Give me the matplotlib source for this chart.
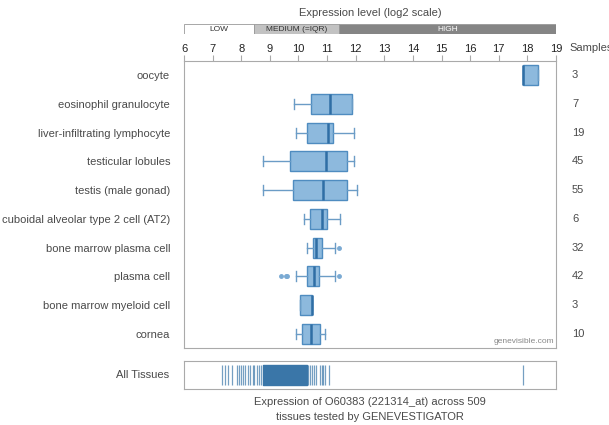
import matplotlib
matplotlib.use('Agg')
import matplotlib.pyplot as plt

plt.rcParams['font.family'] = ['Liberation Sans', 'DejaVu Sans']

tissues = ['oocyte', 'eosinophil granulocyte', 'liver-infiltrating lymphocyte',
           'testicular lobules', 'testis (male gonad)', 'cuboidal alveolar type 2 cell (AT2)',
           'bone marrow plasma cell', 'plasma cell', 'bone marrow myeloid cell', 'cornea']
samples = [3, 7, 19, 45, 55, 6, 32, 42, 3, 10]
whislo = [17.84, 9.84, 9.90, 8.77, 8.77, 10.21, 10.30, 9.93, 10.07, 9.90]
q1 = [17.84, 10.44, 10.30, 9.70, 9.82, 10.41, 10.52, 10.30, 10.07, 10.14]
med = [17.86, 11.10, 11.02, 10.95, 10.87, 10.81, 10.62, 10.55, 10.47, 10.44]
q3 = [18.37, 11.87, 11.20, 11.69, 11.69, 11.01, 10.83, 10.73, 10.49, 10.77]
whishi = [18.37, 11.87, 11.94, 11.95, 12.04, 11.44, 11.26, 11.26, 10.49, 10.91]
fliers = [[], [], [], [], [], [], [11.42], [9.39, 9.55, 9.60, 11.42], [], []]

# all tissues strip
strip_lines = [7.34, 7.42, 7.55, 7.67, 7.84, 7.91, 7.98, 8.05, 8.12, 8.23, 8.31,
               8.40, 8.46, 8.54, 8.63, 8.69, 10.35, 10.41, 10.47, 10.56, 10.62,
               10.76, 10.82, 10.87, 10.93, 11.08, 17.84]
strip_dense = (8.77, 10.29)

levels = ['LOW', 'MEDIUM (=IQR)', 'HIGH']
level_edges = [6, 8.45, 11.43, 19]

text_col = '#4a4a4a'
box_fill = '#8db9dd'
box_edge = '#4f8cc0'
med_col = '#2f6ea5'

fig = plt.figure(figsize=(6.09, 4.25), dpi=100)

# level bar
axl = fig.add_axes([184 / 609, 1 - 34 / 425, 372 / 609, 10 / 425])
lcols = ['white', '#c2c2c2', '#858585']
tcols = ['#333333', '#333333', 'white']
for i, lab in enumerate(levels):
    a, b = level_edges[i], level_edges[i + 1]
    axl.barh(0, b - a, left=a, height=1, color=lcols[i], edgecolor='#999999', linewidth=0.6)
    axl.text((a + b) / 2, -0.05, lab, ha='center', va='center', fontsize=6, color=tcols[i])
axl.set_xlim(6, 19)
axl.set_ylim(-0.5, 0.5)
axl.axis('off')
fig.text(370 / 609, 1 - 13 / 425, 'Expression level (log2 scale)', ha='center', va='center',
         fontsize=8, color=text_col)

# main box plot
ax = fig.add_axes([184 / 609, 1 - 348 / 425, 372 / 609, 287 / 425])
stats = []
for i in range(len(tissues)):
    stats.append(dict(whislo=whislo[i], q1=q1[i], med=med[i], q3=q3[i],
                      whishi=whishi[i], fliers=fliers[i]))
pos = list(range(len(tissues)))[::-1]
ax.bxp(stats, positions=pos, orientation='horizontal', widths=0.7, capwidths=0.35,
       patch_artist=True,
       boxprops=dict(facecolor=box_fill, edgecolor=box_edge, linewidth=1),
       medianprops=dict(color=med_col, linewidth=1.8),
       whiskerprops=dict(color='#6b9cc6', linewidth=1),
       capprops=dict(color='#6b9cc6', linewidth=1),
       flierprops=dict(marker='o', markersize=2.5, markerfacecolor='#7aaad3',
                       markeredgecolor='#7aaad3'))
ax.set_xlim(6, 19)
ax.set_ylim(-0.5, len(tissues) - 0.5)
ax.set_yticks(pos)
ax.set_yticklabels(tissues, fontsize=8, color=text_col)
ax.tick_params(axis='y', length=0, pad=10)
ax.xaxis.tick_top()
ax.set_xticks(range(6, 20))
ax.tick_params(axis='x', direction='out', length=4, color='#aaaaaa', labelsize=8,
               labelcolor='#222222', pad=1)
for s in ax.spines.values():
    s.set_color('#aaaaaa')
for p, n in zip(pos, samples):
    ax.text(1.043, (p + 0.5) / len(tissues), str(n), transform=ax.transAxes,
            ha='left', va='center', fontsize=8, color=text_col)
ax.text(1.035, 1.045, 'Samples', transform=ax.transAxes, ha='left', va='center',
        fontsize=8, color=text_col)
ax.text(0.995, 0.012, 'genevisible.com', transform=ax.transAxes, ha='right', va='bottom',
        fontsize=6, color='#888888')

# all tissues strip
axs = fig.add_axes([184 / 609, 1 - 389 / 425, 372 / 609, 28 / 425])
axs.broken_barh([(strip_dense[0], strip_dense[1] - strip_dense[0])], (0.15, 0.7),
                color='#3a76a8')
axs.vlines(strip_lines, 0.15, 0.85, color='#3a76a8', linewidth=0.9, alpha=0.7)
axs.set_xlim(6, 19)
axs.set_ylim(0, 1)
axs.set_xticks([])
axs.set_yticks([])
for s in axs.spines.values():
    s.set_color('#aaaaaa')
axs.text(-0.04, 0.5, 'All Tissues', transform=axs.transAxes, ha='right', va='center',
         fontsize=8, color=text_col)

fig.text(370 / 609, 1 - 402 / 425, 'Expression of O60383 (221314_at) across 509',
         ha='center', va='center', fontsize=8, color=text_col)
fig.text(370 / 609, 1 - 417 / 425, 'tissues tested by GENEVESTIGATOR',
         ha='center', va='center', fontsize=8, color=text_col)

fig.savefig('out.png', dpi=100)
